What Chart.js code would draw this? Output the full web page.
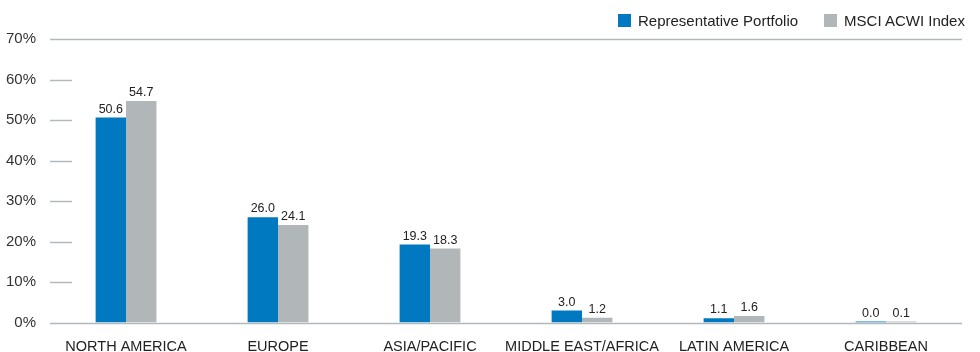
<!DOCTYPE html>
<html>
<head>
<meta charset="utf-8">
<script src="https://cdn.jsdelivr.net/npm/chart.js@4/dist/chart.umd.min.js"></script>
<style>
  html, body { margin: 0; padding: 0; background: #fff; }
  .wrap { width: 980px; height: 352px; position: relative; }
  #legend { position: absolute; top: 12px; left: 618px; font: 15px 'Liberation Sans', Arial, sans-serif; color: #222; white-space: nowrap; }
  #legend span.item { display: inline-block; margin-right: 26px; }
  #legend i { display: inline-block; width: 13px; height: 13px; vertical-align: -1px; margin-right: 7px; }
</style>
</head>
<body>
<div class="wrap">
  <canvas id="myChart"></canvas>
  <div id="legend"></div>
</div>
<script>
var regions = ['NORTH AMERICA', 'EUROPE', 'ASIA/PACIFIC', 'MIDDLE EAST/AFRICA', 'LATIN AMERICA', 'CARIBBEAN'];
var portfolio = [50.6, 26.0, 19.3, 3.0, 1.1, 0.0];
var acwi = [54.7, 24.1, 18.3, 1.2, 1.6, 0.1];
var yTicks = [0, 10, 20, 30, 40, 50, 60, 70];

var fontName = "'Liberation Sans', Arial, sans-serif";
var lineColor = '#b3b8bc';

/* gridlines: full at 0 and top, short ticks otherwise */
var tickLines = {
    id: 'tickLines',
    beforeDatasetsDraw: function(chart) {
        var ctx = chart.ctx, area = chart.chartArea, ys = chart.scales.y;
        ctx.save();
        ctx.strokeStyle = lineColor;
        ctx.lineWidth = 1.5;
        yTicks.forEach(function(v) {
            var y = Math.round(ys.getPixelForValue(v)) + 0.5;
            var full = (v === yTicks[0] || v === yTicks[yTicks.length - 1]);
            ctx.beginPath();
            ctx.moveTo(area.left, y);
            ctx.lineTo(full ? area.right : area.left + 22, y);
            ctx.stroke();
        });
        ctx.restore();
    }
};

/* value labels above bars */
var valueLabels = {
    id: 'valueLabels',
    afterDatasetsDraw: function(chart) {
        var ctx = chart.ctx;
        ctx.save();
        ctx.font = '12.5px ' + fontName;
        ctx.fillStyle = '#222';
        ctx.textAlign = 'center';
        ctx.textBaseline = 'bottom';
        chart.data.datasets.forEach(function(ds, i) {
            chart.getDatasetMeta(i).data.forEach(function(el, j) {
                ctx.fillText(ds.data[j].toFixed(1), el.x, el.y - 2);
            });
        });
        ctx.restore();
    }
};

var ctx = document.getElementById('myChart').getContext('2d');
var myChart = new Chart(ctx, {
    type: 'bar',
    data: {
        labels: regions,
        datasets: [{
            label: 'Representative Portfolio',
            data: portfolio,
            backgroundColor: '#0079c1',
            categoryPercentage: 0.4,
            barPercentage: 1.0,
            minBarLength: 1
        }, {
            label: 'MSCI ACWI Index',
            data: acwi,
            backgroundColor: '#b1b6b9',
            categoryPercentage: 0.4,
            barPercentage: 1.0,
            minBarLength: 1
        }]
    },
    plugins: [tickLines, valueLabels],
    options: {
        responsive: true,
        maintainAspectRatio: false,
        animation: false,
        layout: {
            padding: { left: 0, right: 18, top: 39, bottom: -12 }
        },
        plugins: {
            legend: { display: false },
            tooltip: { enabled: false }
        },
        scales: {
            x: {
                grid: { display: false },
                border: { display: false },
                ticks: {
                    color: '#222',
                    padding: 8,
                    autoSkip: false,
                    maxRotation: 0,
                    font: { family: fontName, size: 14.5 }
                }
            },
            y: {
                min: 0,
                max: 70,
                grid: { display: false },
                border: { display: false },
                afterBuildTicks: function(scale) {
                    scale.ticks = yTicks.map(function(v) { return { value: v }; });
                },
                ticks: {
                    color: '#333',
                    padding: 6,
                    font: { family: fontName, size: 15 },
                    callback: function(v) { return v + '%'; }
                }
            }
        }
    }
});

/* legend */
var html = '';
myChart.data.datasets.forEach(function(ds) {
    html += '<span class="item"><i style="background:' + ds.backgroundColor + '"></i>' + ds.label + '</span>';
});
document.getElementById('legend').innerHTML = html;
</script>
</body>
</html>
